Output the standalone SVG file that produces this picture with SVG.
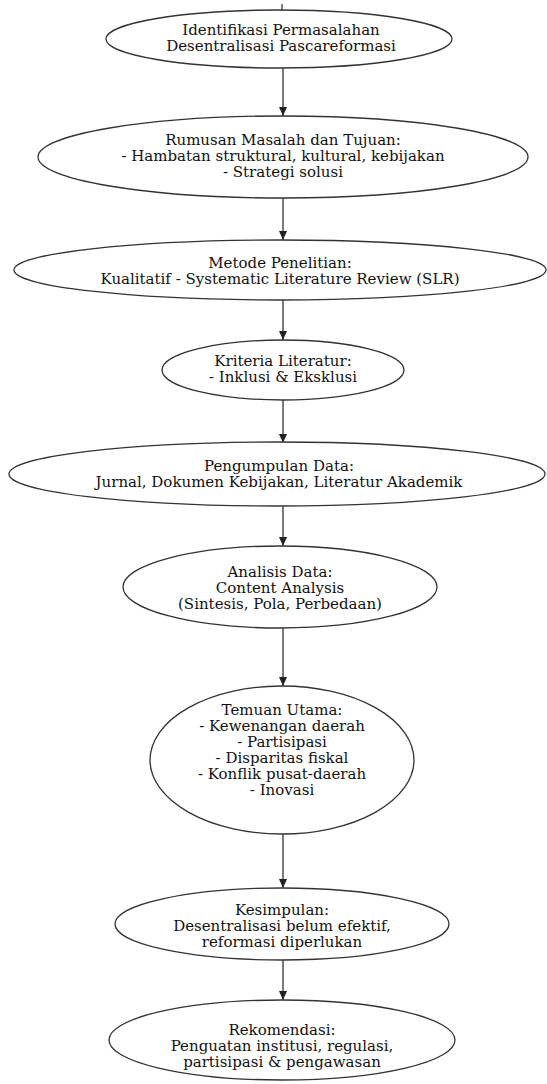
<svg xmlns="http://www.w3.org/2000/svg" width="547" height="1084" viewBox="0 0 547 1084">
<style>
.n ellipse{fill:#fff;stroke:#333;stroke-width:1.3}
.n text{font-family:"DejaVu Serif",serif;font-size:15px;fill:#111;text-anchor:middle}
.e line{stroke:#222;stroke-width:1.2}
</style>
<defs>
<marker id="ah" markerWidth="10" markerHeight="10" refX="9" refY="5" orient="auto" markerUnits="userSpaceOnUse">
<path d="M0,1 L9,5 L0,9 Z" fill="#222"/>
</marker>
</defs>
<rect width="547" height="1084" fill="#fff"/>
<g id="edges" class="e">
<line x1="282" y1="4" x2="282" y2="10"/>
<line x1="283" y1="68" x2="283" y2="116" marker-end="url(#ah)"/>
<line x1="283" y1="198" x2="283" y2="240" marker-end="url(#ah)"/>
<line x1="283" y1="300" x2="283" y2="340" marker-end="url(#ah)"/>
<line x1="283" y1="400" x2="283" y2="443" marker-end="url(#ah)"/>
<line x1="283" y1="506" x2="283" y2="546" marker-end="url(#ah)"/>
<line x1="283" y1="628" x2="283" y2="686" marker-end="url(#ah)"/>
<line x1="283" y1="834" x2="283" y2="888" marker-end="url(#ah)"/>
<line x1="283" y1="960" x2="283" y2="1000" marker-end="url(#ah)"/>
</g>
<g id="n1" class="n"><ellipse cx="279" cy="39" rx="173" ry="29"/>
<text x="281" y="35">Identifikasi Permasalahan</text><text x="281" y="51">Desentralisasi Pascareformasi</text></g>
<g id="n2" class="n"><ellipse cx="283" cy="157" rx="245" ry="41"/>
<text x="283" y="145">Rumusan Masalah dan Tujuan:</text><text x="283" y="161">- Hambatan struktural, kultural, kebijakan</text><text x="283" y="177">- Strategi solusi</text></g>
<g id="n3" class="n"><ellipse cx="280" cy="270" rx="266" ry="30"/>
<text x="280" y="268">Metode Penelitian:</text><text x="280" y="284">Kualitatif - Systematic Literature Review (SLR)</text></g>
<g id="n4" class="n"><ellipse cx="283" cy="370" rx="121" ry="30"/>
<text x="283" y="366">Kriteria Literatur:</text><text x="283" y="382">- Inklusi &amp; Eksklusi</text></g>
<g id="n5" class="n"><ellipse cx="277" cy="474" rx="268" ry="32"/>
<text x="279" y="471">Pengumpulan Data:</text><text x="279" y="487">Jurnal, Dokumen Kebijakan, Literatur Akademik</text></g>
<g id="n6" class="n"><ellipse cx="280" cy="587" rx="157" ry="41"/>
<text x="280" y="577">Analisis Data:</text><text x="280" y="593">Content Analysis</text><text x="280" y="609">(Sintesis, Pola, Perbedaan)</text></g>
<g id="n7" class="n"><ellipse cx="282" cy="760" rx="132" ry="74"/>
<text x="282" y="715">Temuan Utama:</text><text x="282" y="731">- Kewenangan daerah</text><text x="282" y="747">- Partisipasi</text><text x="282" y="763">- Disparitas fiskal</text><text x="282" y="779">- Konflik pusat-daerah</text><text x="282" y="795">- Inovasi</text></g>
<g id="n8" class="n"><ellipse cx="282" cy="924" rx="167" ry="36"/>
<text x="282" y="915">Kesimpulan:</text><text x="282" y="931">Desentralisasi belum efektif,</text><text x="282" y="947">reformasi diperlukan</text></g>
<g id="n9" class="n"><ellipse cx="282" cy="1040" rx="173" ry="40"/>
<text x="282" y="1035">Rekomendasi:</text><text x="282" y="1051">Penguatan institusi, regulasi,</text><text x="282" y="1067">partisipasi &amp; pengawasan</text></g>
</svg>
